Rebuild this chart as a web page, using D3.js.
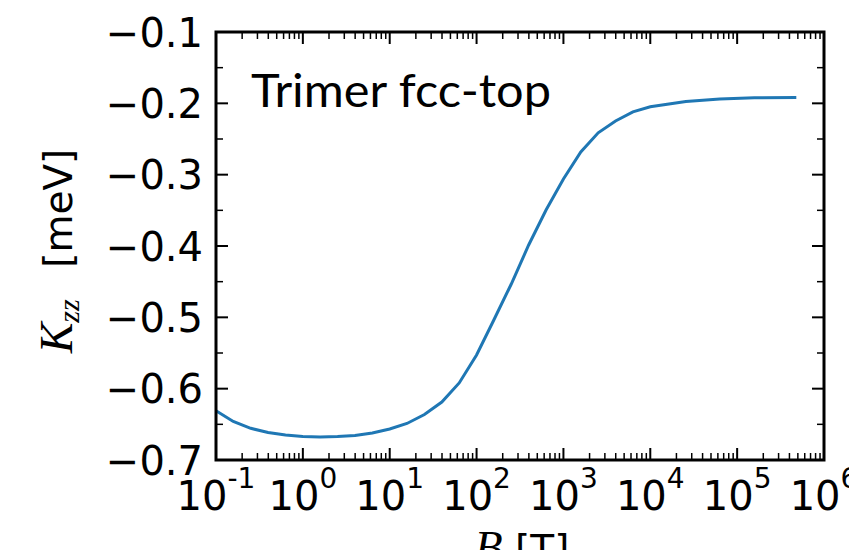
<!DOCTYPE html>
<html>
<head>
<meta charset="utf-8">
<script src="https://cdn.jsdelivr.net/npm/d3@7"></script>
<style>
  body { margin: 0; background: #fff; }
  svg { display: block; }
  .tick-label { font-family: "DejaVu Sans"; font-size: 40px; fill: #000; }
  .axis-label { font-family: "DejaVu Sans"; font-size: 39px; fill: #000; }
  .math { font-family: "Liberation Serif", "DejaVu Serif"; font-style: italic; }
</style>
</head>
<body>
<div id="chart"></div>
<script>
// field B [T] and anisotropy K_zz [meV]
const fieldB = [0.1, 0.158, 0.251, 0.398, 0.631, 1, 1.58, 2.51, 3.98, 6.31,
                10, 15.8, 25.1, 39.8, 63.1, 100, 158, 251, 398, 631,
                1000, 1585, 2512, 3981, 6310, 10000, 25700, 63000, 158000, 480000];
const kzz = [-0.631, -0.646, -0.6556, -0.6614, -0.665, -0.6669, -0.6676, -0.6672, -0.6657, -0.6621,
             -0.6565, -0.6488, -0.6362, -0.6187, -0.592, -0.5528, -0.5037, -0.4533, -0.3986, -0.3495,
             -0.306, -0.2682, -0.2414, -0.2247, -0.2119, -0.2049, -0.1974, -0.1939, -0.1922, -0.1918];

const yTicks = [-0.7, -0.6, -0.5, -0.4, -0.3, -0.2, -0.1];
const yTickLabels = ["\u22120.7", "\u22120.6", "\u22120.5", "\u22120.4", "\u22120.3", "\u22120.2", "\u22120.1"];
const yMinor = [-0.65, -0.55, -0.45, -0.35, -0.25, -0.15];
const xExponents = [-1, 0, 1, 2, 3, 4, 5, 6];
const xExpLabels = ["-1", "0", "1", "2", "3", "4", "5", "6"];
const title = "Trimer fcc-top";

const width = 849, height = 550;
const pLeft = 216, pRight = 824, pTop = 32, pBottom = 460;
const majorLen = 12, minorLen = 7;

var svg = d3.select("#chart").append("svg")
    .attr("width", width)
    .attr("height", height);

var x = d3.scaleLog().domain([0.1, 1e6]).range([pLeft, pRight]);
var y = d3.scaleLinear().domain([-0.7, -0.1]).range([pBottom, pTop]);

var xMajor = xExponents.map(e => Math.pow(10, e));
var xMinor = [];
xExponents.slice(0, -1).forEach(function(e) {
    for (var m = 2; m <= 9; m++) xMinor.push(m * Math.pow(10, e));
});

var drawTicks = function() {
    var g = svg.append("g").attr("stroke", "#000");
    // bottom and top
    [[xMajor, majorLen, 2], [xMinor, minorLen, 1.5]].forEach(function(t) {
        g.selectAll(null).data(t[0]).enter().append("line")
            .attr("x1", d => x(d)).attr("x2", d => x(d))
            .attr("y1", pBottom).attr("y2", pBottom - t[1])
            .attr("stroke-width", t[2]);
        g.selectAll(null).data(t[0]).enter().append("line")
            .attr("x1", d => x(d)).attr("x2", d => x(d))
            .attr("y1", pTop).attr("y2", pTop + t[1])
            .attr("stroke-width", t[2]);
    });
    // left and right
    [[yTicks, majorLen, 2], [yMinor, minorLen, 1.5]].forEach(function(t) {
        g.selectAll(null).data(t[0]).enter().append("line")
            .attr("y1", d => y(d)).attr("y2", d => y(d))
            .attr("x1", pLeft).attr("x2", pLeft + t[1])
            .attr("stroke-width", t[2]);
        g.selectAll(null).data(t[0]).enter().append("line")
            .attr("y1", d => y(d)).attr("y2", d => y(d))
            .attr("x1", pRight).attr("x2", pRight - t[1])
            .attr("stroke-width", t[2]);
    });
};

var drawLabels = function() {
    svg.selectAll(".ylab").data(yTicks).enter().append("text")
        .attr("class", "tick-label")
        .attr("x", pLeft - 13)
        .attr("y", d => y(d) + 14.5)
        .attr("text-anchor", "end")
        .text((d, i) => yTickLabels[i]);

    var xl = svg.selectAll(".xlab").data(xMajor).enter().append("text")
        .attr("class", "tick-label")
        .attr("x", d => x(d))
        .attr("y", 510)
        .attr("text-anchor", "middle");
    xl.append("tspan").text("10");
    xl.append("tspan")
        .attr("font-size", 28)
        .attr("dy", -22)
        .text((d, i) => xExpLabels[i]);

    // y axis label
    var yl = svg.append("text")
        .attr("class", "axis-label")
        .attr("transform", "translate(72," + ((pTop + pBottom) / 2 + 5) + ") rotate(-90)")
        .attr("text-anchor", "middle");
    yl.append("tspan").attr("class", "math").attr("font-size", 46).text("K");
    yl.append("tspan").attr("class", "math").attr("font-size", 30).attr("dy", 7).text("zz");
    yl.append("tspan").attr("dy", -7).attr("dx", 12).text("\u2002[meV]");

    // x axis label (cut by the bottom edge)
    var xlab = svg.append("text")
        .attr("class", "axis-label")
        .attr("x", (pLeft + pRight) / 2 + 2)
        .attr("y", 563)
        .attr("text-anchor", "middle");
    xlab.append("tspan").attr("class", "math").attr("font-size", 46).text("B");
    xlab.append("tspan").text(" [T]");

    svg.append("text")
        .attr("x", 251)
        .attr("y", 107)
        .attr("font-family", "Lato")
        .attr("font-size", 46)
        .attr("textLength", 300)
        .attr("lengthAdjust", "spacingAndGlyphs")
        .text(title);
};

var drawCurve = function() {
    var line = d3.line()
        .x((d, i) => x(fieldB[i]))
        .y(d => y(d));
    svg.append("path")
        .attr("d", line(kzz))
        .attr("fill", "none")
        .attr("stroke", "#1f77b4")
        .attr("stroke-width", 3);
};

drawCurve();
drawTicks();
svg.append("rect")
    .attr("x", pLeft).attr("y", pTop)
    .attr("width", pRight - pLeft).attr("height", pBottom - pTop)
    .attr("fill", "none")
    .attr("stroke", "#000")
    .attr("stroke-width", 3);
drawLabels();
</script>
</body>
</html>
